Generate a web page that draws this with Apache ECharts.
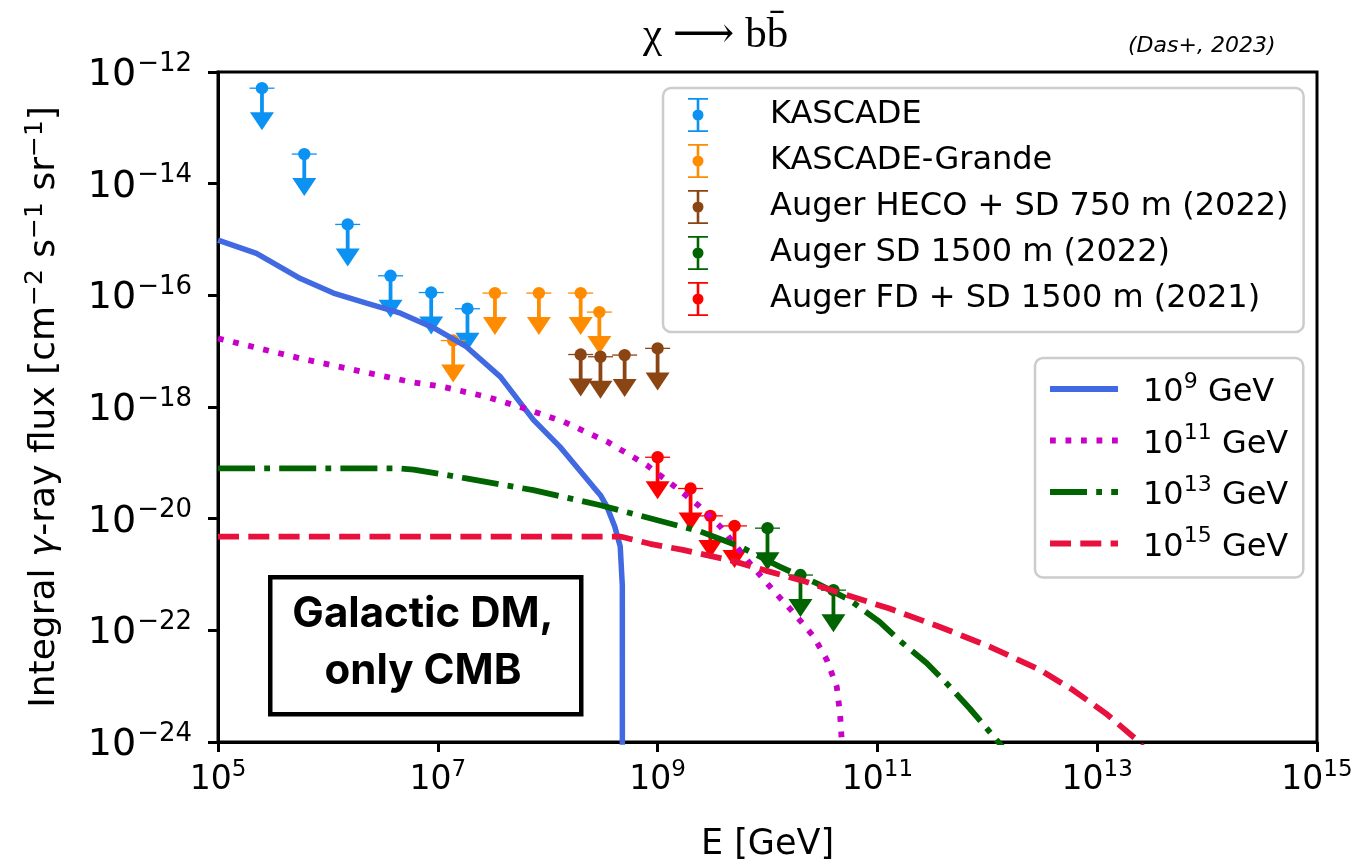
<!DOCTYPE html>
<html>
<head>
<meta charset="utf-8">
<script src="https://cdn.jsdelivr.net/npm/echarts@6/dist/echarts.min.js"></script>
<style>
html,body{margin:0;padding:0;background:#fff;}
#chart{width:1368px;height:861px;}
</style>
</head>
<body>
<div id="chart"></div>
<script>
// ---------- data (log10 values) ----------
const xTickExponents = [5, 7, 9, 11, 13, 15];
const yTickExponents = [-24, -22, -20, -18, -16, -14, -12];

const kascadeLogE = [5.40, 5.785, 6.18, 6.57, 6.94, 7.27];
const kascadeLogF = [-12.29, -13.47, -14.73, -15.65, -15.95, -16.24];

const grandeLogE = [7.14, 7.52, 7.92, 8.30, 8.47];
const grandeLogF = [-16.81, -15.96, -15.96, -15.96, -16.30];

const hecoLogE = [8.30, 8.48, 8.70, 9.00];
const hecoLogF = [-17.06, -17.10, -17.07, -16.95];

const sdLogE = [10.0, 10.30, 10.60];
const sdLogF = [-20.17, -21.01, -21.28];

const fdLogE = [9.00, 9.30, 9.48, 9.70];
const fdLogF = [-18.90, -19.46, -19.95, -20.13];

const m9LogE  = [5.0, 5.35, 5.75, 6.05, 6.35, 6.66, 6.96, 7.26, 7.57, 7.87, 8.11, 8.17, 8.415, 8.48, 8.54, 8.61, 8.66, 8.673, 8.679, 8.68];
const m9LogF  = [-15.01, -15.25, -15.70, -15.96, -16.14, -16.32, -16.58, -16.92, -17.46, -18.23, -18.71, -18.85, -19.43, -19.58, -19.79, -20.14, -20.50, -20.98, -21.2, -30];

const m11LogE = [5.0, 5.75, 6.75, 7.05, 7.45, 7.75, 8.14, 8.54, 8.90, 9.14, 9.37, 9.57, 9.84, 10.05, 10.23, 10.42, 10.54, 10.63, 10.66, 10.675, 10.69];
const m11LogF = [-16.77, -17.13, -17.55, -17.64, -17.82, -18.0, -18.26, -18.62, -19.04, -19.40, -19.76, -20.14, -20.80, -21.28, -21.67, -22.11, -22.53, -23.01, -23.49, -23.96, -30];

const m13LogE = [5.0, 6.66, 6.78, 7.26, 7.87, 8.48, 9.39, 9.75, 9.99, 10.11, 10.45, 10.75, 11.02, 11.20, 11.45, 11.63, 11.84, 12.10, 12.4];
const m13LogF = [-19.10, -19.10, -19.12, -19.28, -19.49, -19.76, -20.23, -20.50, -20.74, -20.86, -21.16, -21.46, -21.85, -22.18, -22.59, -22.95, -23.40, -24.0, -24.7];

const m15LogE = [5.0, 8.66, 8.93, 9.23, 9.69, 10.0, 10.30, 10.66, 11.11, 11.57, 12.02, 12.48, 12.78, 13.08, 13.36, 13.5];
const m15LogF = [-20.32, -20.32, -20.45, -20.56, -20.76, -20.94, -21.10, -21.33, -21.61, -21.94, -22.29, -22.71, -23.07, -23.49, -23.96, -24.3];

// ---------- helpers ----------
function pairs(xs, ys) { return xs.map((x, i) => [x, ys[i]]); }

const ebIcon = 'path://M0 0H20V1.8H0Z M8.7 1.8H11.3V12H8.7Z M10 11.5A5.5 5.5 0 1 1 10 22.5A5.5 5.5 0 1 1 10 11.5Z M8.7 22H11.3V32.2H8.7Z M0 32.2H20V34H0Z';

function limitRender(params, api) {
  const p = api.coord([api.value(0), api.value(1)]);
  const c = api.visual('color');
  return {
    type: 'group',
    children: [
      { type: 'line', shape: { x1: p[0] - 12.5, y1: p[1], x2: p[0] + 12.5, y2: p[1] }, style: { stroke: c, lineWidth: 1.3 } },
      { type: 'line', shape: { x1: p[0], y1: p[1], x2: p[0], y2: p[1] + 26 }, style: { stroke: c, lineWidth: 3.8 } },
      { type: 'polygon', shape: { points: [[p[0] - 12, p[1] + 24], [p[0] + 12, p[1] + 24], [p[0], p[1] + 42]] }, style: { fill: c } },
      { type: 'circle', shape: { cx: p[0], cy: p[1], r: 6.2 }, style: { fill: c } }
    ]
  };
}

function limitSeries(name, color, xs, ys) {
  return {
    name: name, type: 'custom', renderItem: limitRender,
    itemStyle: { color: color }, data: pairs(xs, ys), z: 2, clip: true
  };
}

function curveSeries(name, color, dash, width, xs, ys) {
  return {
    name: name, type: 'line', symbol: 'none', showSymbol: false, smooth: false,
    lineStyle: { color: color, width: width, type: dash, cap: 'butt' },
    itemStyle: { color: color },
    data: pairs(xs, ys), z: 5, clip: true
  };
}

const FONT = 'DejaVu Sans';

const yRich = {
  b: { fontFamily: FONT, fontSize: 38, color: '#000', verticalAlign: 'bottom', lineHeight: 44 },
  s: { fontFamily: FONT, fontSize: 26, color: '#000', verticalAlign: 'bottom', lineHeight: 26, padding: [0, 0, 17, 1] }
};
const xRich = {
  b: { fontFamily: FONT, fontSize: 33, color: '#000', verticalAlign: 'bottom', lineHeight: 38 },
  s: { fontFamily: FONT, fontSize: 23, color: '#000', verticalAlign: 'bottom', lineHeight: 23, padding: [0, 0, 15, 0] }
};

const chart = echarts.init(document.getElementById('chart'), null, { renderer: 'canvas' });

const option = {
  backgroundColor: '#fff',
  animation: false,
  grid: {
    left: 218, top: 72, right: 51, bottom: 119,
    outerBoundsMode: 'none', containLabel: false,
    show: true, borderColor: '#000', borderWidth: 3, backgroundColor: 'transparent'
  },
  xAxis: {
    type: 'value', min: 5, max: 15, interval: 2,
    axisLine: { lineStyle: { color: '#000', width: 3 } },
    axisTick: { show: true, length: 10, inside: false, lineStyle: { color: '#000', width: 3 } },
    splitLine: { show: false },
    axisLabel: {
      margin: 17,
      formatter: function (v) { return '{b|10}{s|' + v + '}'; },
      rich: xRich
    },
    name: 'E [GeV]', nameLocation: 'middle', nameGap: 85,
    nameTextStyle: { fontFamily: FONT, fontSize: 35, color: '#000' }
  },
  yAxis: {
    type: 'value', min: -24, max: -12, interval: 2,
    axisLine: { lineStyle: { color: '#000', width: 3 } },
    axisTick: { show: true, length: 10, inside: false, lineStyle: { color: '#000', width: 3 } },
    splitLine: { show: false },
    axisLabel: {
      margin: 26,
      formatter: function (v) { return '{b|10}{s|\u2212' + Math.abs(v) + '}'; },
      rich: yRich
    },
    name: '{n|Integral }{g|\u03B3}{n|-ray flux [cm}{s|\u22122}{n| s}{s|\u22121}{n| sr}{s|\u22121}{n|]}',
    nameLocation: 'middle', nameRotate: 90, nameGap: 155,
    nameTextStyle: {
      rich: {
        n: { fontFamily: FONT, fontSize: 36, color: '#000', verticalAlign: 'bottom', lineHeight: 42 },
        g: { fontFamily: FONT, fontStyle: 'italic', fontSize: 36, color: '#000', verticalAlign: 'bottom', lineHeight: 42 },
        s: { fontFamily: FONT, fontSize: 25, color: '#000', verticalAlign: 'bottom', lineHeight: 25, padding: [0, 0, 15, 0] }
      }
    }
  },
  legend: [
    {
      orient: 'vertical', left: 663, top: 88,
      padding: [10, 15, 16, 25],
      itemWidth: 20, itemHeight: 34, itemGap: 12,
      selectedMode: false,
      backgroundColor: 'rgba(255,255,255,0.8)',
      borderColor: '#cccccc', borderWidth: 2.5, borderRadius: 8,
      textStyle: { fontFamily: FONT, fontSize: 32, color: '#000', lineHeight: 34, padding: [0, 0, 0, 57] },
      data: [
        { name: 'KASCADE', icon: ebIcon },
        { name: 'KASCADE-Grande', icon: ebIcon },
        { name: 'Auger HECO + SD 750 m (2022)', icon: ebIcon },
        { name: 'Auger SD 1500 m (2022)', icon: ebIcon },
        { name: 'Auger FD + SD 1500 m (2021)', icon: ebIcon }
      ]
    },
    {
      orient: 'vertical', left: 1035, top: 358,
      padding: [13, 15, 14, 12],
      itemWidth: 68, itemHeight: 40, itemGap: 13.5,
      selectedMode: false,
      backgroundColor: 'rgba(255,255,255,0.8)',
      borderColor: '#cccccc', borderWidth: 2.5, borderRadius: 8,
      itemStyle: { opacity: 0 },
      lineStyle: { width: 6 },
      formatter: function (name) {
        const e = name.replace('10^', '').replace(' GeV', '');
        return '{b|10}{s|' + e + '}{b| GeV}';
      },
      textStyle: {
        padding: [0, 0, 0, 20],
        rich: {
          b: { fontFamily: FONT, fontSize: 32, color: '#000', verticalAlign: 'bottom', lineHeight: 40 },
          s: { fontFamily: FONT, fontSize: 22, color: '#000', verticalAlign: 'bottom', lineHeight: 22, padding: [0, 0, 16, 0] }
        }
      },
      data: ['10^9 GeV', '10^11 GeV', '10^13 GeV', '10^15 GeV']
    }
  ],
  series: [
    limitSeries('KASCADE', '#0c92f2', kascadeLogE, kascadeLogF),
    limitSeries('KASCADE-Grande', '#ff8c00', grandeLogE, grandeLogF),
    limitSeries('Auger HECO + SD 750 m (2022)', '#8b4513', hecoLogE, hecoLogF),
    limitSeries('Auger SD 1500 m (2022)', '#006400', sdLogE, sdLogF),
    limitSeries('Auger FD + SD 1500 m (2021)', '#ff0000', fdLogE, fdLogF),
    curveSeries('10^9 GeV', '#4169e1', 'solid', 5.5, m9LogE, m9LogF),
    curveSeries('10^11 GeV', '#c800c8', [5.8, 9.7], 5.8, m11LogE, m11LogF),
    curveSeries('10^13 GeV', '#006400', [37, 9.2, 5.8, 9.2], 5.8, m13LogE, m13LogF),
    curveSeries('10^15 GeV', '#e8103c', [21, 9.3], 5.8, m15LogE, m15LogF)
  ],
  graphic: [
    {
      type: 'text', left: 643, top: 14, z: 10,
      style: { text: '\u03C7 \u27F6 bb\u0304', font: '43px "Liberation Serif", "DejaVu Serif", serif', fill: '#000' }
    },
    {
      type: 'text', left: 1128, top: 35, z: 10,
      style: { text: '(Das+, 2023)', font: 'italic 22px "DejaVu Sans", sans-serif', fill: '#000' }
    },
    {
      type: 'rect', left: 268, top: 575, z: 10,
      shape: { width: 311, height: 137 },
      style: { fill: '#fff', stroke: '#000', lineWidth: 4.5 }
    },
    {
      type: 'text', x: 423, y: 643, z: 11,
      style: { text: 'Galactic DM,\nonly CMB', font: 'bold 42px "Inter", "Lato", sans-serif', fill: '#000', align: 'center', verticalAlign: 'middle', lineHeight: 57 }
    }
  ]
};

chart.setOption(option);
</script>
</body>
</html>
